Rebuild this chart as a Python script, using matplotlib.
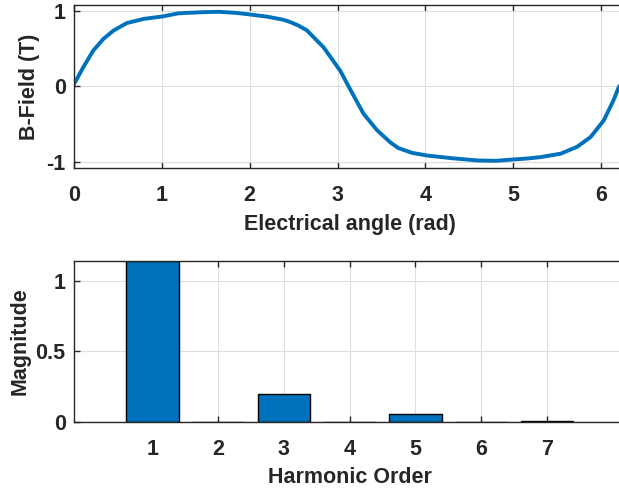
import matplotlib
matplotlib.use("Agg")
import matplotlib.pyplot as plt

# ---- data ----
theta = [0.0, 0.106, 0.22, 0.334, 0.448, 0.60, 0.79, 1.017, 1.19, 1.47, 1.65, 1.85,
         2.0, 2.2, 2.38, 2.46, 2.55, 2.65, 2.84, 3.03, 3.14, 3.295, 3.45, 3.60, 3.69, 3.85,
         4.02, 4.3, 4.59, 4.8, 5.0, 5.15, 5.31, 5.54, 5.725, 5.88, 6.03, 6.14, 6.20, 6.2832]
bfield = [0.03, 0.256, 0.477, 0.63, 0.74, 0.84, 0.895, 0.93, 0.97, 0.985, 0.99, 0.975,
          0.955, 0.925, 0.885, 0.855, 0.81, 0.745, 0.52, 0.21, -0.03, -0.36, -0.58, -0.74, -0.815, -0.88,
          -0.915, -0.95, -0.98, -0.985, -0.967, -0.955, -0.936, -0.89, -0.80, -0.67, -0.45, -0.185, -0.01, 0.12]

harmonics = [1, 2, 3, 4, 5, 6, 7]
magnitude = [1.14, 0.0, 0.196, 0.0, 0.054, 0.0, 0.008]

top_xticks = [0, 1, 2, 3, 4, 5, 6]
top_yticks = [-1, 0, 1]
bot_yticks = [0, 0.5, 1]
bot_yticklabels = ["0", "0.5", "1"]

# ---- style ----
plt.rcParams['font.family'] = ['Liberation Sans', 'DejaVu Sans']
plt.rcParams['font.weight'] = 'bold'
plt.rcParams['axes.unicode_minus'] = False
FS = 15.5
BLUE = '#0072BD'
AXC = '#262626'
GRID = '#dedede'

W, H = 619, 490
fig = plt.figure(figsize=(W / 100, H / 100), dpi=100)

def px_axes(left, top, right, bottom):
    return fig.add_axes([left / W, 1 - bottom / H, (right - left) / W, (bottom - top) / H])

def style(ax):
    for s in ax.spines.values():
        s.set_color(AXC)
        s.set_linewidth(1.0)
    ax.tick_params(direction='in', length=4, width=1.0, color=AXC,
                   top=True, right=True, labelsize=FS, labelcolor=AXC)
    ax.tick_params(axis='y', pad=6.0)
    ax.tick_params(axis='x', pad=12.0)
    ax.grid(True, color=GRID, linewidth=0.8)
    ax.set_axisbelow(True)
    for lab in ax.get_xticklabels() + ax.get_yticklabels():
        lab.set_fontweight('bold')

# top axes
ax1 = px_axes(74, 5, 626, 168)
ax1.plot(theta, bfield, color=BLUE, linewidth=2.8, solid_capstyle='round',
         solid_joinstyle='round')
ax1.set_xlim(0, 6.2832)
ax1.set_ylim(-1.08, 1.08)
ax1.set_xticks(top_xticks)
ax1.set_yticks(top_yticks)
style(ax1)
ax1.set_xlabel('Electrical angle (rad)', fontweight='bold', color=AXC, fontsize=FS)
ax1.set_ylabel('B-Field (T)', fontweight='bold', color=AXC, fontsize=FS)
ax1.xaxis.set_label_coords(0.5, -0.28)
ax1.yaxis.set_label_coords(-0.062, 0.5)

# bottom axes
ax2 = px_axes(74, 260.7, 626, 422)
ax2.bar(harmonics, magnitude, width=0.8, color=BLUE, edgecolor='black', linewidth=1.0)
ax2.set_xlim(-0.19, 8.2)
ax2.set_ylim(0, max(magnitude))
ax2.set_xticks(harmonics)
ax2.set_yticks(bot_yticks)
ax2.set_yticklabels(bot_yticklabels)
style(ax2)
ax2.set_xlabel('Harmonic Order', fontweight='bold', color=AXC, fontsize=FS)
ax2.set_ylabel('Magnitude', fontweight='bold', color=AXC, fontsize=FS)
ax2.xaxis.set_label_coords(0.5, -0.282)
ax2.yaxis.set_label_coords(-0.078, 0.5)

fig.savefig('out.png', dpi=100)
